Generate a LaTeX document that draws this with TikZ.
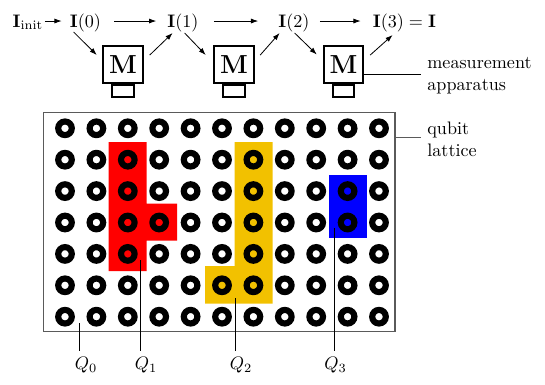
\documentclass[tikz,border=0pt]{standalone}
\usetikzlibrary{arrows.meta,calc}
\definecolor{qred}{RGB}{255,0,0}
\definecolor{qyellow}{RGB}{242,193,0}
\definecolor{qblue}{RGB}{0,0,255}
\definecolor{framegray}{RGB}{90,90,90}
\begin{document}
\begin{tikzpicture}[x=0.5525pt,y=-0.5525pt,
  lbl/.style={inner sep=0pt,anchor=base},
  arr/.style={-{Latex[length=4pt,width=2.8pt]},line width=0.45pt},
  mbox/.style={draw,line width=1.1pt,minimum width=21.8pt,minimum height=20.4pt,inner sep=0pt,font=\Large},
  mbase/.style={draw,line width=1.1pt,minimum width=12pt,minimum height=6.6pt,inner sep=0pt,anchor=north},
  ring/.style={line width=3.4pt},
  lead/.style={line width=0.55pt},
  graylead/.style={line width=0.6pt,draw=framegray}]
\useasboundingbox (0,0) rectangle (545,384);

% top labels
\node[lbl] (Ii) at (28,27) {$\mathbf{I}_{\mathrm{init}}$};
\node[lbl] (I0) at (85.5,27) {$\mathbf{I}(0)$};
\node[lbl] (I1) at (183,27) {$\mathbf{I}(1)$};
\node[lbl] (I2) at (294,27) {$\mathbf{I}(2)$};
\node[lbl] (I3) at (404.5,27) {$\mathbf{I}(3)=\mathbf{I}$};

% measurement boxes
\node[mbox] (M1) at (123,64.5) {$\mathbf{M}$};
\node[mbox] (M2) at (234,64.5) {$\mathbf{M}$};
\node[mbox] (M3) at (343.5,64.5) {$\mathbf{M}$};
\node[mbase] (B1) at (M1.south) {};
\node[mbase] (B2) at (M2.south) {};
\node[mbase] (B3) at (M3.south) {};

% horizontal arrows
\draw[arr] ([shift={(0.6pt,3.3pt)}]Ii.base east) -- ([shift={(-4.4pt,3.3pt)}]I0.base west);
\draw[arr] ([shift={(7.2pt,3.3pt)}]I0.base east) -- ([shift={(-6pt,3.3pt)}]I1.base west);
\draw[arr] ([shift={(8.3pt,3.3pt)}]I1.base east) -- ([shift={(-11pt,3.3pt)}]I2.base west);
\draw[arr] ([shift={(5.5pt,3.3pt)}]I2.base east) -- ([shift={(-6.6pt,3.3pt)}]I3.base west);

% diagonal arrows
\draw[arr] ($(I0.base west)+(4,5)$) -- ($(M1.north west)+(-5.5,10)$);
\draw[arr] ($(M1.north east)+(6,10)$) -- ($(I1.base west)+(5.5,6)$);
\draw[arr] ($(I1.base west)+(17.5,6)$) -- ($(M2.north west)+(-7.5,10)$);
\draw[arr] ($(M2.north east)+(5.5,10)$) -- ($(I2.base west)+(1.5,6)$);
\draw[arr] ($(I2.base west)+(16.5,6)$) -- ($(M3.north west)+(-6,9.5)$);
\draw[arr] ($(M3.north east)+(6,10)$) -- ($(I3.base west)+(20,8)$);

% measurement apparatus label
\node[anchor=west,align=left] (ma) at (421,76) {measurement\\apparatus};
\draw[lead] ([yshift=-5.5pt]M3.east) -- ([yshift=-5.5pt]M3.east -| ma.west);

% lattice frame
\draw[graylead] (43.3,112.3) rectangle (395,331.7);

% coloured regions
\fill[qred] (108.5,142) -- (146.5,142) -- (146.5,203.5) -- (177,203.5) -- (177,240.5) -- (146.5,240.5) -- (146.5,271) -- (108.5,271) -- cycle;
\fill[qyellow] (234.5,142) -- (272.5,142) -- (272.5,303.5) -- (205,303.5) -- (205,266) -- (234.5,266) -- cycle;
\fill[qblue] (329,174.5) rectangle (367,237.5);

% qubits
\foreach \i in {0,...,10}
  \foreach \j in {0,...,6}
    \draw[ring] ({65+31.4*\i},{128.3+31.4*\j}) circle[radius=6.8];

% qubit lattice label
\node[anchor=west,align=left] (ql) at (421,139.5) {qubit\\lattice};
\coordinate (fq) at (395,137.3);
\draw[graylead] (fq) -- (fq -| ql.west);

% logical qubit labels
\node (Q0) at (86,365.5) {$Q_0$};
\node (Q1) at (146,365.5) {$Q_1$};
\node (Q2) at (241,365.5) {$Q_2$};
\node (Q3) at (335.5,365.5) {$Q_3$};
\coordinate (q0) at (79.3,323);
\coordinate (q1) at (140,260);
\coordinate (q2) at (235,298);
\coordinate (q3) at (334,228);
\draw[lead] (q0) -- (q0 |- Q0.north);
\draw[lead] (q1) -- (q1 |- Q1.north);
\draw[lead] (q2) -- (q2 |- Q2.north);
\draw[lead] (q3) -- (q3 |- Q3.north);
\end{tikzpicture}
\end{document}
